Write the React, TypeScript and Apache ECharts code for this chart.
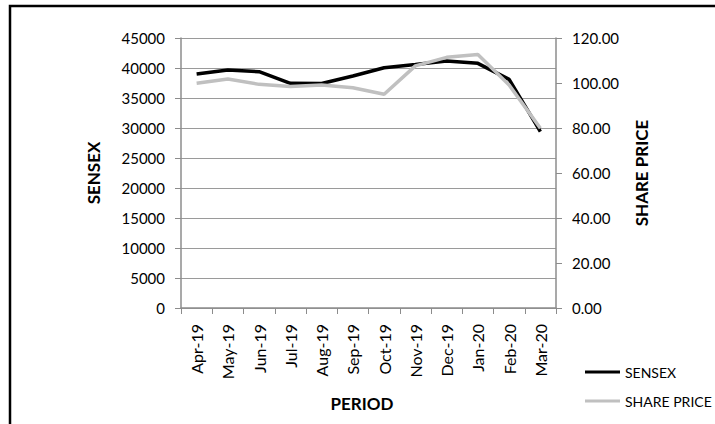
import React, { useEffect, useRef } from "react";
import * as echarts from "echarts";

const categories = ["Apr-19", "May-19", "Jun-19", "Jul-19", "Aug-19", "Sep-19", "Oct-19", "Nov-19", "Dec-19", "Jan-20", "Feb-20", "Mar-20"];
const sensex = [39000, 39670, 39390, 37450, 37420, 38670, 40050, 40600, 41170, 40780, 38110, 29390];
const sharePrice = [99.9, 101.8, 99.4, 98.4, 99.1, 97.9, 95.0, 107.6, 111.4, 112.7, 99.1, 79.9];

const FONT = "Lato, 'Liberation Sans', sans-serif";

export default function App() {
  const ref = useRef<HTMLDivElement>(null);
  useEffect(() => {
    if (!ref.current) return;
    const chart = echarts.init(ref.current, null, { renderer: "svg" });
    chart.setOption({
      animation: false,
      backgroundColor: "#ffffff",
      textStyle: { fontFamily: FONT },
      grid: { left: 181, right: 159, top: 38, bottom: 116, containLabel: false },
      legend: {
        orient: "vertical",
        left: 580,
        top: 360,
        icon: "rect",
        itemWidth: 35,
        itemHeight: 3,
        itemGap: 15,
        textStyle: { fontFamily: FONT, fontSize: 14, color: "#000" },
        data: ["SENSEX", "SHARE PRICE"],
      },
      xAxis: {
        type: "category",
        data: categories,
        boundaryGap: true,
        axisLine: { lineStyle: { color: "#8c8c8c", width: 1.5 } },
        axisTick: { show: true, length: 6, interval: 0, lineStyle: { color: "#8c8c8c" } },
        axisLabel: { rotate: 90, interval: 0, margin: 16, fontSize: 16, color: "#000", fontFamily: FONT },
      },
      yAxis: [
        {
          type: "value",
          min: 0,
          max: 45000,
          interval: 5000,
          position: "left",
          axisLine: { show: true, lineStyle: { color: "#8c8c8c", width: 1.5 } },
          axisTick: { show: true, length: 6, lineStyle: { color: "#8c8c8c" } },
          axisLabel: { margin: 16, fontSize: 15, color: "#000", fontFamily: FONT, formatter: (v: number) => String(v) },
          splitLine: { show: true, lineStyle: { color: "#9a9a9a", width: 1 } },
        },
        {
          type: "value",
          min: 0,
          max: 120,
          interval: 20,
          position: "right",
          axisLine: { show: true, lineStyle: { color: "#8c8c8c", width: 1.5 } },
          axisTick: { show: true, length: 6, lineStyle: { color: "#8c8c8c" } },
          axisLabel: {
            margin: 16,
            fontSize: 15,
            color: "#000",
            fontFamily: FONT,
            formatter: (v: number) => v.toFixed(2),
          },
          splitLine: { show: false },
        },
      ],
      series: [
        {
          name: "SENSEX",
          type: "line",
          yAxisIndex: 0,
          data: sensex,
          symbol: "none",
          lineStyle: { color: "#000000", width: 3.5 },
          itemStyle: { color: "#000000" },
          z: 3,
        },
        {
          name: "SHARE PRICE",
          type: "line",
          yAxisIndex: 1,
          data: sharePrice,
          symbol: "none",
          lineStyle: { color: "#c0c0c0", width: 3.5 },
          itemStyle: { color: "#c0c0c0" },
          z: 4,
        },
      ],
      graphic: [
        {
          type: "rect",
          shape: { x: 10, y: 6, width: 740, height: 460 },
          style: { fill: "none", stroke: "#000", lineWidth: 2.5 },
          silent: true,
          z: 100,
        },
        {
          type: "text",
          x: 93,
          y: 173,
          rotation: Math.PI / 2,
          style: {
            text: "SENSEX",
            fontFamily: FONT,
            fontWeight: "bold",
            fontSize: 17,
            fill: "#000",
            align: "center",
            verticalAlign: "middle",
          },
        },
        {
          type: "text",
          x: 641,
          y: 173,
          rotation: Math.PI / 2,
          style: {
            text: "SHARE PRICE",
            fontFamily: FONT,
            fontWeight: "bold",
            fontSize: 17,
            fill: "#000",
            align: "center",
            verticalAlign: "middle",
          },
        },
        {
          type: "text",
          x: 362,
          y: 403,
          style: {
            text: "PERIOD",
            fontFamily: FONT,
            fontWeight: "bold",
            fontSize: 17,
            fill: "#000",
            align: "center",
            verticalAlign: "middle",
          },
        },
      ],
    });
    return () => chart.dispose();
  }, []);
  return <div ref={ref} style={{ width: 715, height: 424, position: "absolute", left: 0, top: 0 }} />;
}
